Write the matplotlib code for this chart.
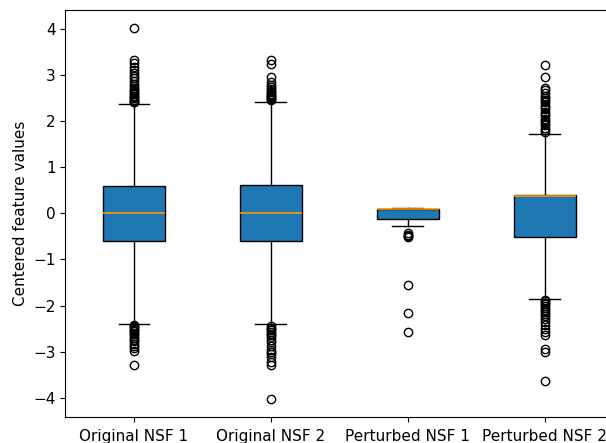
import matplotlib
matplotlib.use("Agg")
import matplotlib.pyplot as plt

labels = ["Original NSF 1", "Original NSF 2", "Perturbed NSF 1", "Perturbed NSF 2"]

# box summary per feature
medians = [0.0, 0.0, 0.09, 0.38]
q1s = [-0.60, -0.60, -0.11, -0.51]
q3s = [0.60, 0.61, 0.095, 0.395]
whis_lo = [-2.39, -2.41, -0.27, -1.85]
whis_hi = [2.38, 2.43, 0.115, 1.73]

fliers = [
    [4.02, 3.33, 3.26, 3.19, 3.12, 3.06, 2.99, 2.93, 2.87, 2.82, 2.77, 2.73,
     2.69, 2.66, 2.62, 2.59, 2.56, 2.53, 2.5, 2.47, 2.45, 2.43, 2.41,
     -2.42, -2.44, -2.47, -2.5, -2.53, -2.56, -2.59, -2.62, -2.66, -2.7,
     -2.74, -2.78, -2.83, -2.88, -2.93, -2.98, -3.30],
    [3.33, 3.25, 2.96, 2.86, 2.79, 2.74, 2.7, 2.66, 2.63, 2.6, 2.57, 2.54,
     2.52, 2.5, 2.48, 2.46,
     -2.45, -2.48, -2.51, -2.54, -2.57, -2.61, -2.65, -2.69, -2.74, -2.8,
     -2.87, -2.96, -3.01, -3.06, -3.11, -3.23, -3.30, -4.02],
    [-0.43, -0.46, -0.48, -0.51, -1.55, -2.17, -2.58],
    [3.22, 2.96, 2.73, 2.67, 2.61, 2.56, 2.51, 2.46, 2.41, 2.36, 2.31, 2.26,
     2.21, 2.16, 2.11, 2.06, 2.01, 1.96, 1.91, 1.86, 1.81, 1.77,
     -1.88, -1.91, -1.94, -1.97, -2.01, -2.05, -2.09, -2.13, -2.18, -2.23,
     -2.29, -2.36, -2.43, -2.5, -2.57, -2.64, -2.94, -3.01, -3.63],
]

stats = []
for i in range(len(labels)):
    stats.append({
        "label": labels[i],
        "med": medians[i],
        "q1": q1s[i],
        "q3": q3s[i],
        "whislo": whis_lo[i],
        "whishi": whis_hi[i],
        "fliers": fliers[i],
    })

fig = plt.figure(figsize=(6.06, 4.43), dpi=100)
ax = fig.add_axes([0.108, 0.0587, 0.904, 0.919])

ax.bxp(stats, widths=0.45, patch_artist=True, showfliers=True,
       boxprops=dict(facecolor="C0", edgecolor="black"),
       medianprops=dict(color="#ff9900", linewidth=1.2))

ax.set_ylabel("Centered feature values", fontsize=11)
ax.set_ylim(-4.42, 4.42)
ax.set_xlim(0.5, 4.5)
ax.tick_params(axis="x", labelsize=11, pad=5.5)
ax.tick_params(axis="y", labelsize=11)

fig.savefig("out.png", dpi=100)
